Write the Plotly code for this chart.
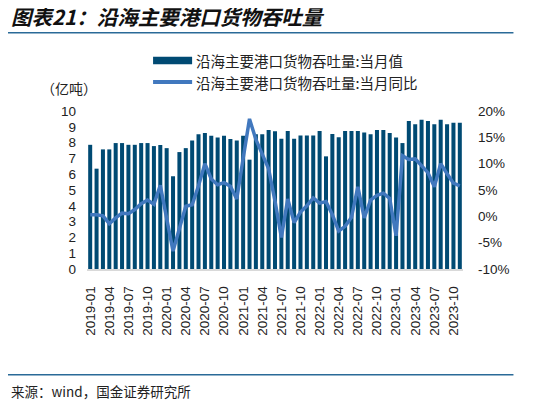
import plotly.graph_objects as go

months = [f"{y}-{m:02d}" for y in range(2019, 2024) for m in range(1, 13)][:59]

throughput = [
    7.86, 6.35, 7.57, 7.57, 7.97, 7.97, 7.86, 7.86, 7.97, 7.97, 7.78, 7.85,
    7.65, 5.87, 7.40, 7.65, 8.13, 8.53, 8.60, 8.43, 8.32, 8.43, 8.22, 8.13,
    8.43, 6.92, 8.53, 8.53, 8.80, 8.72, 8.24, 8.74, 8.24, 8.45, 8.45, 8.45,
    8.74, 7.13, 8.55, 8.34, 8.74, 8.74, 8.74, 8.64, 8.53, 8.80, 8.80, 8.60,
    8.32, 7.97, 9.37, 9.16, 9.45, 9.37, 9.16, 9.45, 9.16, 9.26, 9.26,
]
yoy = [
    0.3, 0.3, 0.1, -1.4, -0.3, 0.6, 0.5, 1.3, 2.4, 3.1, 2.3, 5.9,
    -0.4, -6.6, -2.3, 1.9, 2.2, 5.8, 10.0, 7.1, 6.0, 6.4, 5.7, 3.3,
    11.0, 18.5, 14.6, 11.6, 9.0, 2.9, -4.0, 3.3, -1.2, 0.8, 2.0, 3.5,
    2.5, 2.8, 0.3, -2.8, -1.9, -0.2, 5.6, -0.3, 3.1, 4.0, 4.4, 3.4,
    -3.7, 11.5, 10.8, 10.9, 9.7, 8.3, 5.6, 10.0, 8.1, 6.3, 5.8,
]
tick_months = months[::3]
left_ticks = list(range(0, 11))
right_ticks = [-10, -5, 0, 5, 10, 15, 20]
right_labels = [f"{v}%" for v in right_ticks]

name_bar = "沿海主要港口货物吞吐量:当月值"
name_line = "沿海主要港口货物吞吐量:当月同比"

BAR = "#004A73"
LINE = "#4178BE"
RULE = "#2A6A98"
OFF = 8  # page body margin offset
W, H = 541 - OFF, 406 - OFF
L, T = 87 - OFF, 111 - OFF
R = W - (462.6 - OFF)
B = H - (269.5 - OFF)
PW, PH = W - L - R, H - T - B


def px(x):
    return (x - OFF - L) / PW


def py(y):
    return (H - B - (y - OFF)) / PH


fig = go.Figure()
fig.add_trace(go.Bar(x=months, y=throughput, name=name_bar, marker_color=BAR,
                     marker_line_width=0, yaxis="y"))
fig.add_trace(go.Scatter(x=months, y=yoy, name=name_line, mode="lines",
                         line=dict(color=LINE, width=3.5), yaxis="y2"))

tickfont = dict(family="Liberation Sans, Arial, sans-serif", size=13.5, color="#222")
fig.update_layout(
    width=W, height=H,
    margin=dict(l=L, r=R, t=T, b=B, pad=0),
    paper_bgcolor="white", plot_bgcolor="white",
    showlegend=False,
    bargap=0.37,
    font=dict(family="Liberation Sans, Noto Sans CJK SC, sans-serif", color="#222"),
    xaxis=dict(type="category", tickmode="array", tickvals=tick_months,
               ticktext=tick_months, tickangle=-90, tickfont=tickfont,
               showgrid=False, showline=True, linecolor="#D9D9D9", linewidth=1.5,
               ticks="", ticklabelstandoff=10, range=[-0.5, 58.5]),
    yaxis=dict(range=[0, 10], tickvals=left_ticks, showgrid=False, zeroline=False,
               tickfont=tickfont, ticks="", ticklabelstandoff=10, showline=False),
    yaxis2=dict(range=[-10, 20], overlaying="y", side="right", tickvals=right_ticks,
                ticktext=right_labels, showgrid=False, zeroline=False,
                tickfont=tickfont, ticks="", ticklabelstandoff=14, showline=False),
)

cjk = "Noto Sans CJK SC, sans-serif"
# title
fig.add_annotation(xref="paper", yref="paper", x=px(9), y=py(16), xanchor="left",
                   yanchor="middle", showarrow=False,
                   text="<b><i>图表21：沿海主要港口货物吞吐量</i></b>",
                   font=dict(family=cjk, size=20.5, color="#111"))
fig.add_shape(type="line", xref="paper", yref="paper", x0=px(5), x1=px(513),
              y0=py(32.5), y1=py(32.5), line=dict(color=RULE, width=1.5))
# unit
fig.add_annotation(xref="paper", yref="paper", x=px(69), y=py(88), xanchor="center",
                   yanchor="middle", showarrow=False, text="（亿吨）",
                   font=dict(family=cjk, size=14, color="#222"))
# legend
fig.add_shape(type="rect", xref="paper", yref="paper", x0=px(153), x1=px(192),
              y0=py(56.5), y1=py(64), line_width=0, fillcolor=BAR)
fig.add_shape(type="line", xref="paper", yref="paper", x0=px(153), x1=px(192),
              y0=py(82), y1=py(82), line=dict(color=LINE, width=4))
fig.add_annotation(xref="paper", yref="paper", x=px(194), y=py(60), xanchor="left",
                   yanchor="middle", showarrow=False, text=name_bar,
                   font=dict(family=cjk, size=14.5, color="#222"))
fig.add_annotation(xref="paper", yref="paper", x=px(194), y=py(82), xanchor="left",
                   yanchor="middle", showarrow=False, text=name_line,
                   font=dict(family=cjk, size=14.5, color="#222"))
# source
fig.add_shape(type="line", xref="paper", yref="paper", x0=px(5), x1=px(513),
              y0=py(375.7), y1=py(375.7), line=dict(color=RULE, width=1.5))
fig.add_annotation(xref="paper", yref="paper", x=px(9), y=py(392), xanchor="left",
                   yanchor="middle", showarrow=False, text="来源：wind，国金证券研究所",
                   font=dict(family=cjk, size=13.5, color="#222"))

fig.write_html("out.html")
